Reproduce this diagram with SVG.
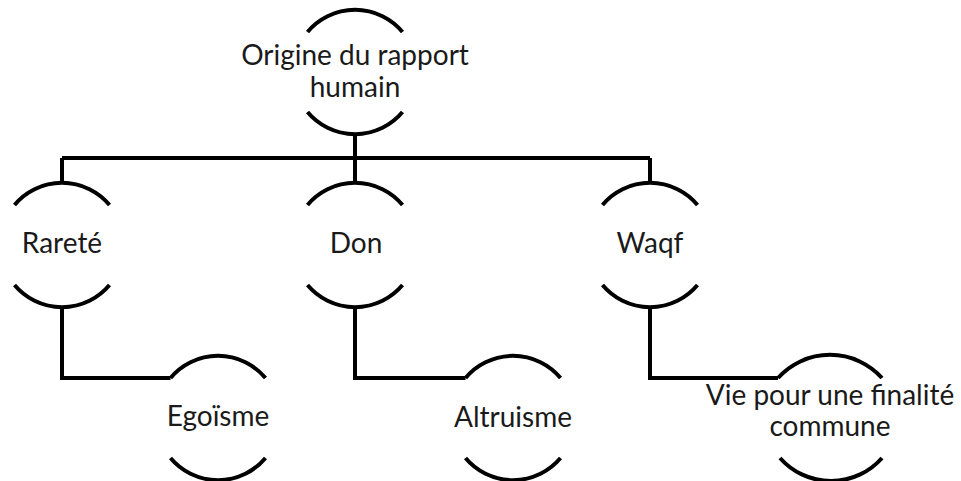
<svg xmlns="http://www.w3.org/2000/svg" width="961" height="481" viewBox="0 0 961 481">
<style>
.arc{fill:none;stroke:#000;stroke-width:4}
.con{fill:none;stroke:#000;stroke-width:4}
text{font-family:Lato,"Liberation Sans",sans-serif;font-size:28px;fill:#1a1a1a;text-anchor:middle}
</style>
<rect width="961" height="481" fill="#fff"/>
<g id="connectors">
<path class="con" d="M355,134 V158 M62,158 H650 M62,158 V183 M355,158 V183 M650,158 V183"/>
<path class="con" d="M62,307 V378 H170.5"/>
<path class="con" d="M355,307 V378 H465.5"/>
<path class="con" d="M650,307 V378 H778"/>
</g>
<g id="n-origine">
<path class="arc" d="M307.5,32 A62,62 0 0 1 402.5,32 M307.5,112 A62,62 0 0 0 402.5,112"/>
<text x="355" y="65">Origine du rapport</text>
<text x="355" y="97">humain</text>
</g>
<g id="n-rarete">
<path class="arc" d="M14.5,205 A62,62 0 0 1 109.5,205 M14.5,285 A62,62 0 0 0 109.5,285"/>
<text x="62" y="253">Rareté</text>
</g>
<g id="n-don">
<path class="arc" d="M307.5,205 A62,62 0 0 1 402.5,205 M307.5,285 A62,62 0 0 0 402.5,285"/>
<text x="356" y="253">Don</text>
</g>
<g id="n-waqf">
<path class="arc" d="M602.5,205 A62,62 0 0 1 697.5,205 M602.5,285 A62,62 0 0 0 697.5,285"/>
<text x="650" y="253">Waqf</text>
</g>
<g id="n-egoisme">
<path class="arc" d="M170.5,378 A62,62 0 0 1 265.5,378 M170.5,458 A62,62 0 0 0 265.5,458"/>
<text x="218" y="426">Egoïsme</text>
</g>
<g id="n-altruisme">
<path class="arc" d="M465.5,378 A62,62 0 0 1 560.5,378 M465.5,458 A62,62 0 0 0 560.5,458"/>
<text x="513" y="427">Altruisme</text>
</g>
<g id="n-vie">
<path class="arc" d="M778,378 A70,70 0 0 1 882,378 M780,458 A68,68 0 0 0 882,458"/>
<text x="830" y="405">Vie pour une finalité</text>
<text x="830" y="436">commune</text>
</g>
</svg>
